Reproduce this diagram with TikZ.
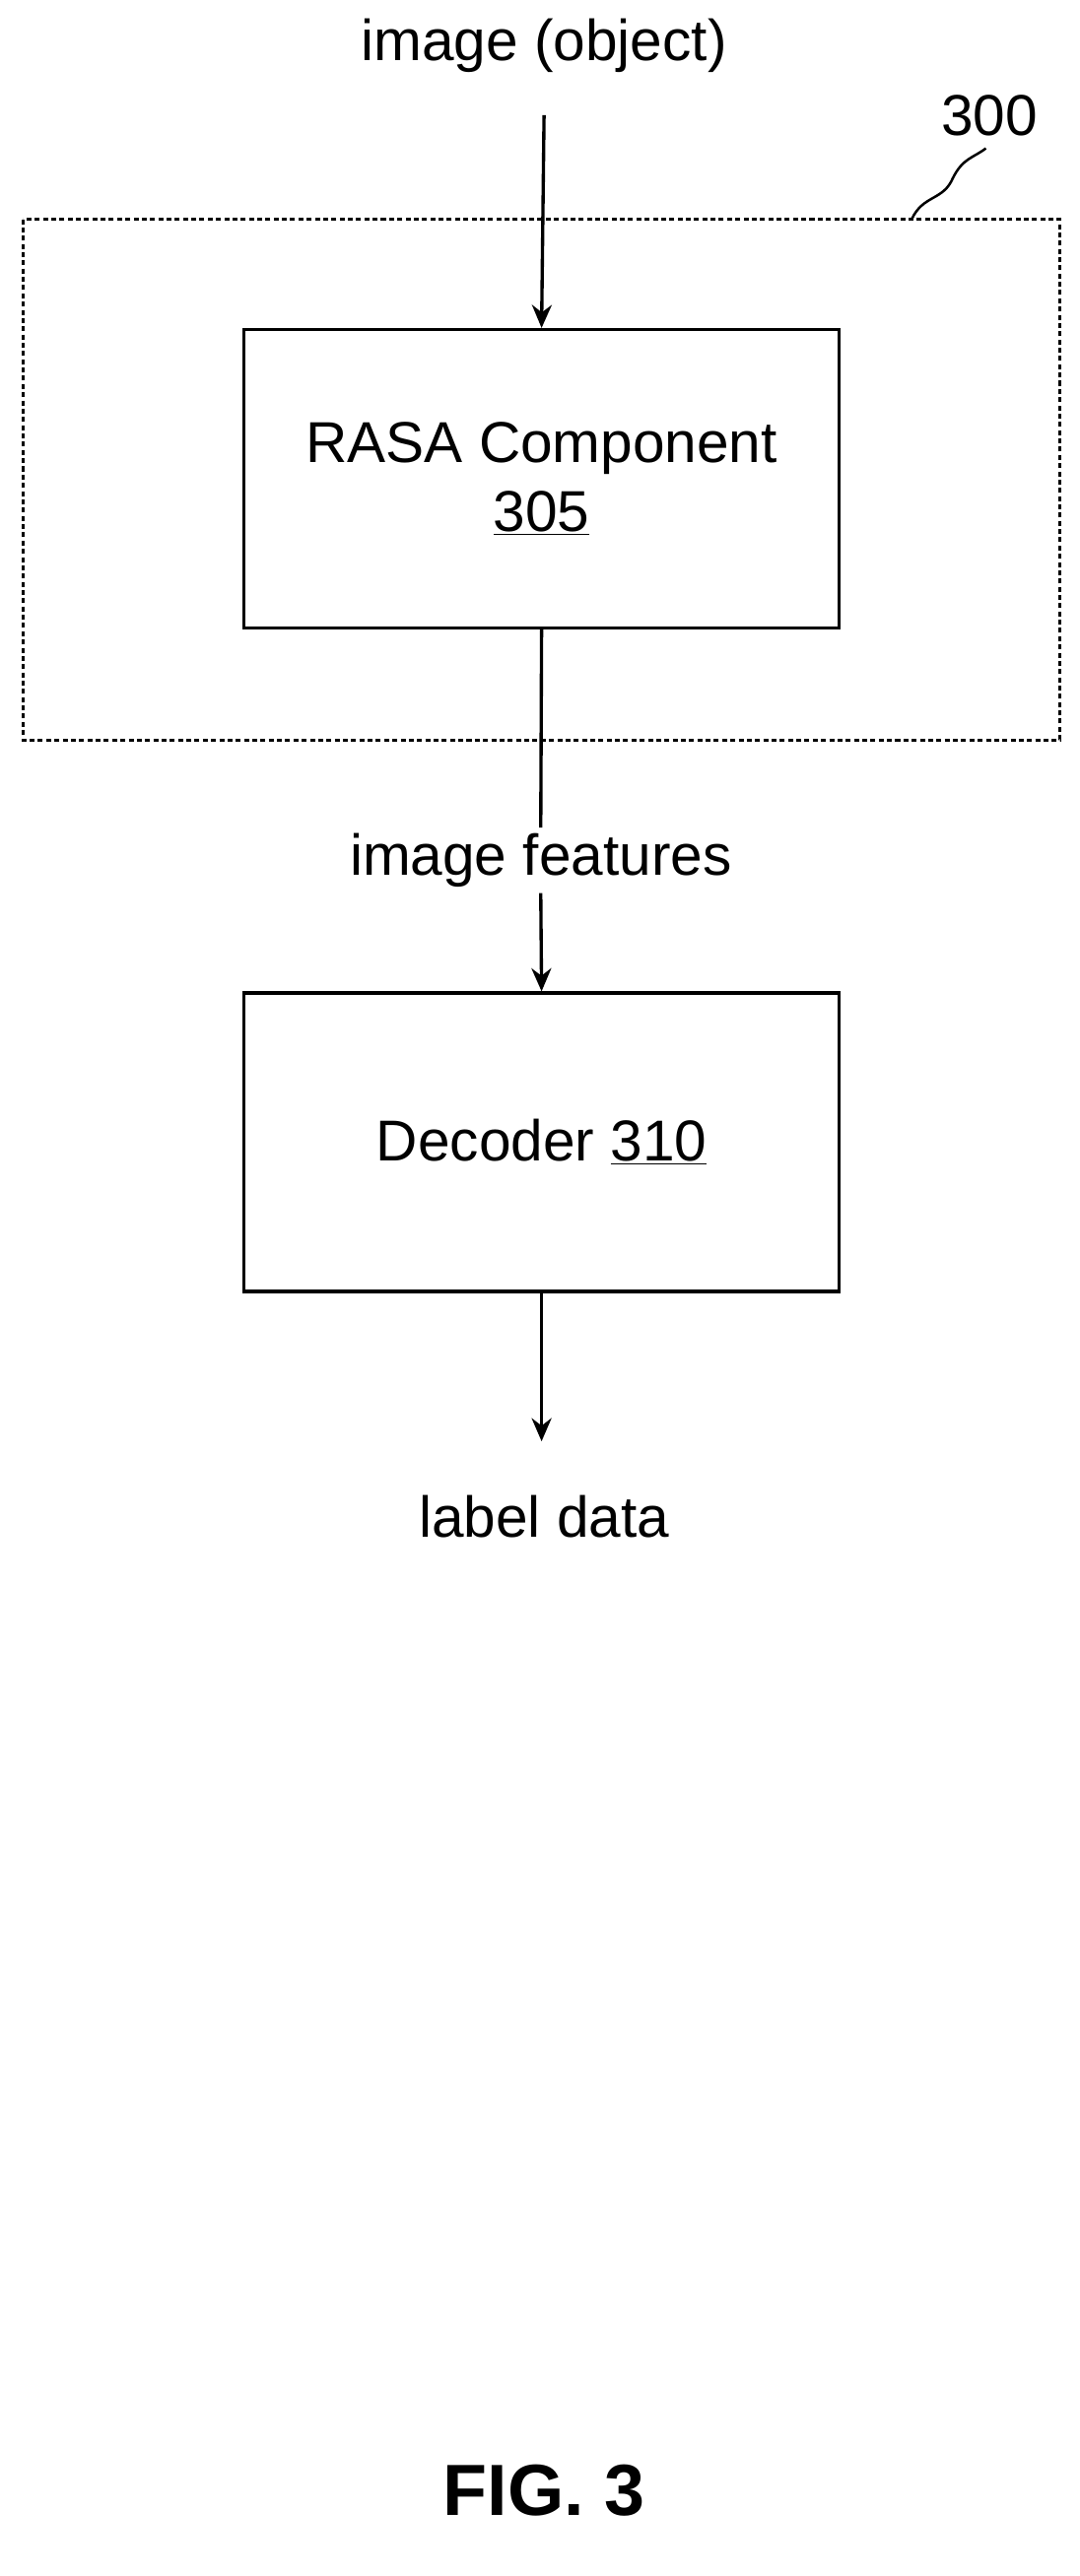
\documentclass[tikz,border=0pt]{standalone}
\usepackage{fontspec}
\setmainfont{Liberation Sans}
\usetikzlibrary{arrows.meta}
\tikzset{
  blockbox/.style={draw,line width=2pt,minimum width=361pt,minimum height=181pt,align=center,font=\fontsize{35}{42}\selectfont},
  lbl/.style={font=\fontsize{35}{42}\selectfont},
  flow/.style={line width=2pt,-{Stealth[length=14pt,width=12pt]}}
}
\begin{document}
\begin{tikzpicture}[x=1pt,y=1pt,yscale=-1]
\useasboundingbox (0,0) rectangle (655,1563);

% group 300
\draw[line width=2pt,dash pattern=on 3pt off 2pt] (14,133) rectangle (643,449);
\node[lbl] (grp) at (600,70) {300};
\draw[line width=1.5pt] (553,133) .. controls (560,118) and (572,122) .. (578,108) .. controls (584,96) and (590,96) .. (598,90);

% blocks
\node[lbl] (img) at (330,28) {image (object)};
\node[blockbox] (rasa) at (328.5,290.5) {RASA Component\\\underline{305}};
\node[lbl] (feat) at (328,522) {image features};
\node[blockbox] (dec) at (328.5,693) {Decoder \underline{310}};
\node[lbl] (out) at (330,920) {label data};
\node[font=\bfseries\fontsize{44}{50}\selectfont] (fig) at (330,1511) {FIG. 3};

% connectors
\draw[flow] (img.south) ++(0,22) coordinate (a0) -- (rasa.north);
\draw[line width=2pt] (rasa.south) -- (feat.north);
\draw[flow] (feat.south) -- (dec.north);
\draw[flow] (dec.south) -- ++(0,90) coordinate (a1);
\end{tikzpicture}
\end{document}
